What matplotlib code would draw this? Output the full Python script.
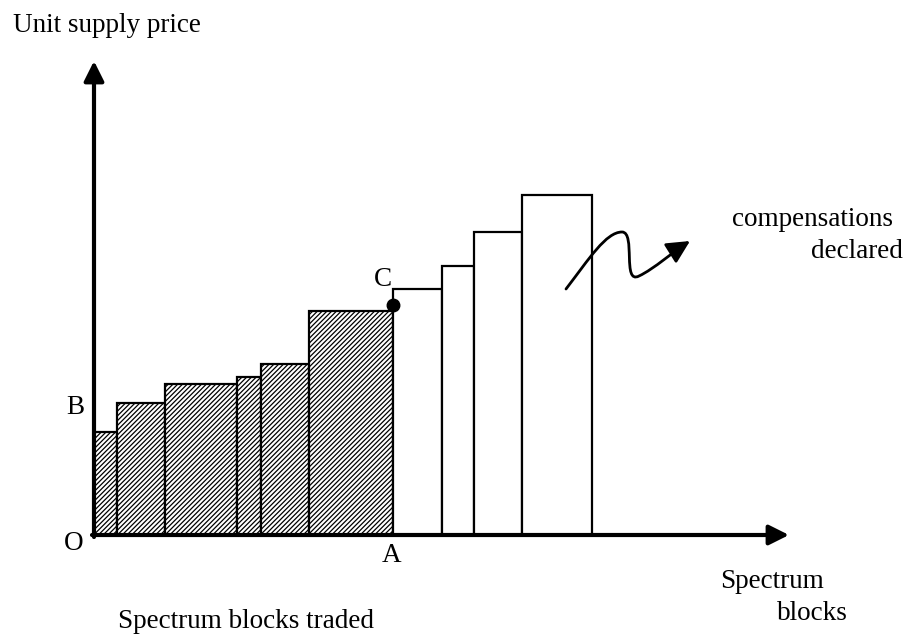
import matplotlib.pyplot as plt
import numpy as np
from matplotlib.path import Path
from matplotlib.patches import FancyArrowPatch

plt.rcParams['font.family'] = ['Liberation Serif', 'DejaVu Serif']
plt.rcParams['hatch.linewidth'] = 0.9

# traded blocks (hatched) : left edges, widths, unit price
traded_left = [0, 23, 71, 143, 167, 215]
traded_width = [23, 48, 72, 24, 48, 84]
traded_price = [103, 132, 151, 158, 171, 224]

# blocks with declared compensations (open)
open_left = [299, 348, 380, 428]
open_width = [49, 32, 48, 70]
open_price = [246, 269, 303, 340]

# squiggle arrow, bezier points
curve_pts = [(472, 246), (495, 276), (512, 303), (528, 303),
             (542, 303), (528, 250), (545, 259),
             (560, 266), (580, 284), (596, 294)]

fig = plt.figure(figsize=(9.16, 6.39), dpi=100)
ax = fig.add_axes([0, 0, 1, 1])
ax.set_xlim(-94, 822)
ax.set_ylim(-104, 535)
ax.axis('off')

ax.bar(traded_left, traded_price, width=traded_width, align='edge',
       facecolor='white', edgecolor='black', linewidth=1.6, hatch='///////')
ax.bar(open_left, open_price, width=open_width, align='edge',
       facecolor='white', edgecolor='black', linewidth=1.6)

# axes arrows
head = '-|>,head_length=0.6,head_width=0.3'
ax.annotate('', xy=(0, 474), xytext=(0, -2),
            arrowprops=dict(arrowstyle=head, lw=3, color='black',
                            mutation_scale=20, shrinkA=0, shrinkB=0))
ax.annotate('', xy=(695, 0), xytext=(-2, 0),
            arrowprops=dict(arrowstyle=head, lw=3, color='black',
                            mutation_scale=20, shrinkA=0, shrinkB=0))

# point C
ax.plot(traded_left[-1] + traded_width[-1], 230, 'o', color='black', markersize=9, zorder=5)

codes = [Path.MOVETO] + [Path.CURVE4] * 9
arr = FancyArrowPatch(path=Path(curve_pts, codes),
                      arrowstyle='-|>,head_length=0.7,head_width=0.35',
                      mutation_scale=20, lw=2, color='black')
ax.add_patch(arr)

fs = 19.5
ax.text(-81, 510, 'Unit supply price', fontsize=fs, va='center', ha='left')
ax.text(-19, 127, 'B', fontsize=fs, va='center', ha='center')
ax.text(-20, -9, 'O', fontsize=fs, va='center', ha='center')
ax.text(289, 256, 'C', fontsize=fs, va='center', ha='center')
ax.text(298, -20, 'A', fontsize=fs, va='center', ha='center')
ax.text(638, 316, 'compensations', fontsize=fs, va='center', ha='left')
ax.text(717, 283, 'declared', fontsize=fs, va='center', ha='left')
ax.text(626, -46, 'Spectrum', fontsize=fs, va='center', ha='left')
ax.text(683, -78, 'blocks', fontsize=fs, va='center', ha='left')
ax.text(24, -86, 'Spectrum blocks traded', fontsize=fs, va='center', ha='left')

fig.savefig('out.png', dpi=100)
